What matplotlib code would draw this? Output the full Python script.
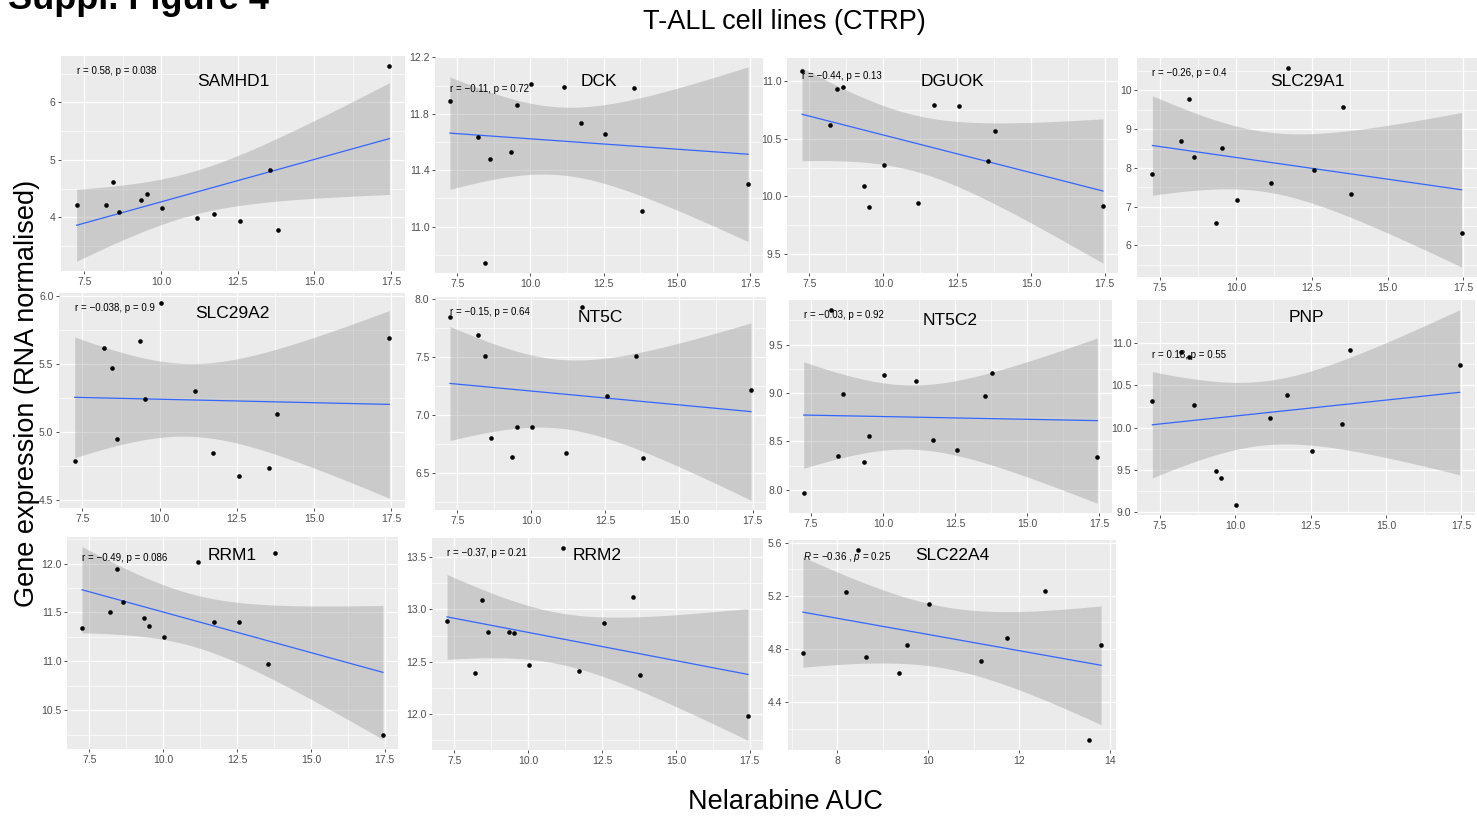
import numpy as np
import matplotlib.pyplot as plt

plt.rcParams['font.family'] = ['Liberation Sans', 'DejaVu Sans']
plt.rcParams['mathtext.fontset'] = 'custom'
plt.rcParams['mathtext.rm'] = 'Liberation Sans'
plt.rcParams['mathtext.it'] = 'Liberation Sans:italic'

# nelarabine AUC per T-ALL cell line (CTRP)
auc = [7.25, 8.2, 8.45, 8.63, 9.35, 9.53, 10.03, 11.16, 11.73, 12.56, 13.54, 13.8, 17.44]

genes = ['SAMHD1', 'DCK', 'DGUOK', 'SLC29A1', 'SLC29A2', 'NT5C',
         'NT5C2', 'PNP', 'RRM1', 'RRM2', 'SLC22A4']

# normalised RNA expression, same line order as auc
samhd1 = [4.21, 4.21, 4.61, 4.09, 4.30, 4.40, 4.16, 3.98, 4.06, 3.94, 4.83, 3.78, 6.64]
dck = [11.89, 11.635, 10.74, 11.48, 11.53, 11.86, 12.01, 11.99, 11.735, 11.66, 11.98, 11.11, 11.30]
dguok = [11.09, 10.62, 10.93, 10.945, 10.09, 9.91, 10.27, 9.94, 10.79, 10.78, 10.31, 10.57, 9.92]
slc29a1 = [7.85, 8.70, 9.78, 8.27, 6.58, 8.52, 7.18, 7.60, 10.58, 7.95, 9.56, 7.33, 6.31]
slc29a2 = [4.787, 5.62, 5.47, 4.95, 5.67, 5.245, 5.95, 5.30, 4.85, 4.68, 4.74, 5.13, 5.69]
nt5c = [7.84, 7.69, 7.51, 6.80, 6.64, 6.90, 6.90, 6.67, 7.93, 7.16, 7.51, 6.63, 7.21]
nt5c2 = [7.97, 9.86, 8.35, 8.99, 8.29, 8.56, 9.19, 9.12, 8.51, 8.41, 8.97, 9.21, 8.34]
pnp = [10.32, 10.89, 10.83, 10.27, 9.49, 9.41, 9.085, 10.12, 10.39, 9.73, 10.04, 10.92, 10.74]
rrm1 = [11.34, 11.50, 11.94, 11.61, 11.44, 11.36, 11.25, 12.02, 11.40, 11.40, 10.97, 12.11, 10.25]
rrm2 = [12.89, 12.395, 13.09, 12.78, 12.78, 12.77, 12.47, 13.59, 12.41, 12.87, 13.12, 12.37, 11.98]
# SLC22A4 has no value for the last line
slc22a4 = [4.77, 5.23, 5.55, 4.74, 4.62, 4.83, 5.14, 4.71, 4.886, 5.24, 4.11, 4.83]

expression = [samhd1, dck, dguok, slc29a1, slc29a2, nt5c, nt5c2, pnp, rrm1, rrm2, slc22a4]

stat_labels = ['r = 0.58, p = 0.038', 'r = \u22120.11, p = 0.72', 'r = \u22120.44, p = 0.13',
               'r = \u22120.26, p = 0.4', 'r = \u22120.038, p = 0.9', 'r = \u22120.15, p = 0.64',
               'r = \u22120.03, p = 0.92', 'r = 0.18, p = 0.55', 'r = \u22120.49, p = 0.086',
               'r = \u22120.37, p = 0.21', '$\\it{R}$ = \u22120.36 , $\\it{p}$ = 0.25']

x_tick_labels = ['7.5', '10.0', '12.5', '15.0', '17.5']
x_tick_labels_slc22a4 = ['8', '10', '12', '14']
y_tick_labels = [['4', '5', '6'],
                 ['11.0', '11.4', '11.8', '12.2'],
                 ['9.5', '10.0', '10.5', '11.0'],
                 ['6', '7', '8', '9', '10'],
                 ['4.5', '5.0', '5.5', '6.0'],
                 ['6.5', '7.0', '7.5', '8.0'],
                 ['8.0', '8.5', '9.0', '9.5'],
                 ['9.0', '9.5', '10.0', '10.5', '11.0'],
                 ['10.5', '11.0', '11.5', '12.0'],
                 ['12.0', '12.5', '13.0', '13.5'],
                 ['4.4', '4.8', '5.2', '5.6']]

# t quantile (0.975) by residual degrees of freedom
t975 = {10: 2.228, 11: 2.201}

W, H = 1477, 817
# panel boxes in pixels: left, top, right, bottom
boxes = [(61, 56, 405, 271), (435, 57, 763, 273), (787, 58, 1118, 273), (1137, 58, 1477, 277),
         (59, 293, 405, 508), (435, 297, 766, 510), (789, 300, 1112, 513), (1137, 300, 1475, 515),
         (67, 537, 398, 749), (432, 538, 763, 750), (788, 540, 1116, 750)]
title_drop = [25, 25, 24, 24, 20, 20, 20, 17, 18, 17, 15]

fig = plt.figure(figsize=(W / 100, H / 100), dpi=100)


def minor_of(major):
    d = major[1] - major[0]
    return [major[0] - d / 2] + [m + d / 2 for m in major]


for i, gene in enumerate(genes):
    y = np.array(expression[i])
    x = np.array(auc[:len(y)])
    l, t, r, b = boxes[i]
    ax = fig.add_axes([l / W, 1 - b / H, (r - l) / W, (b - t) / H])
    ax.set_facecolor('#EBEBEB')
    for s in ax.spines.values():
        s.set_visible(False)

    # linear fit with 95% confidence band
    n = len(x)
    xm, ym = x.mean(), y.mean()
    sxx = ((x - xm) ** 2).sum()
    slope = ((x - xm) * (y - ym)).sum() / sxx
    icpt = ym - slope * xm
    sd = np.sqrt(((y - icpt - slope * x) ** 2).sum() / (n - 2))
    xs = np.linspace(x.min(), x.max(), 80)
    fit = icpt + slope * xs
    half = t975[n - 2] * sd * np.sqrt(1 / n + (xs - xm) ** 2 / sxx)

    xt_labels = x_tick_labels_slc22a4 if gene == 'SLC22A4' else x_tick_labels
    xt = [float(v) for v in xt_labels]
    yt = [float(v) for v in y_tick_labels[i]]

    for v in minor_of(xt):
        ax.axvline(v, color='white', lw=0.45, zorder=0)
    for v in minor_of(yt):
        ax.axhline(v, color='white', lw=0.45, zorder=0)
    for v in xt:
        ax.axvline(v, color='white', lw=0.9, zorder=0)
    for v in yt:
        ax.axhline(v, color='white', lw=0.9, zorder=0)

    ax.fill_between(xs, fit - half, fit + half, color='#999999', alpha=0.4, lw=0, zorder=1)
    ax.plot(xs, fit, color='#3366FF', lw=0.9, zorder=2)
    ax.plot(x, y, 'o', color='black', ms=3.3, mec='none', zorder=3)

    xpad = 0.05 * (x.max() - x.min())
    lo = min(y.min(), (fit - half).min())
    hi = max(y.max(), (fit + half).max())
    ypad = 0.05 * (hi - lo)
    ax.set_xlim(x.min() - xpad, x.max() + xpad)
    ax.set_ylim(lo - ypad, hi + ypad)

    ax.set_xticks(xt)
    ax.set_xticklabels(xt_labels)
    ax.set_yticks(yt)
    ax.set_yticklabels(y_tick_labels[i])
    ax.tick_params(length=2.5, width=0.6, color='#333333', labelcolor='#4D4D4D',
                   labelsize=7.5, pad=1.5)

    ax.text(x.min(), y.max(), stat_labels[i], ha='left', va='top', fontsize=7, zorder=4)
    fig.text((l + r) / 2 / W, 1 - (t + title_drop[i]) / H, gene,
             ha='center', va='center', fontsize=12.5)

fig.text(784 / W, 1 - 22 / H, 'T-ALL cell lines (CTRP)', ha='center', va='center', fontsize=19.5)
fig.text(785 / W, 1 - 802 / H, 'Nelarabine AUC', ha='center', va='center', fontsize=19.5)
fig.text(27 / W, 1 - 393 / H, 'Gene expression (RNA normalised)', ha='center', va='center',
         rotation=90, fontsize=19.5)
fig.text(8 / W, 1 - 9 / H, 'Suppl. Figure 4', ha='left', va='baseline', fontsize=26,
         fontweight='bold')

fig.savefig('out.png', dpi=100, facecolor='white')
